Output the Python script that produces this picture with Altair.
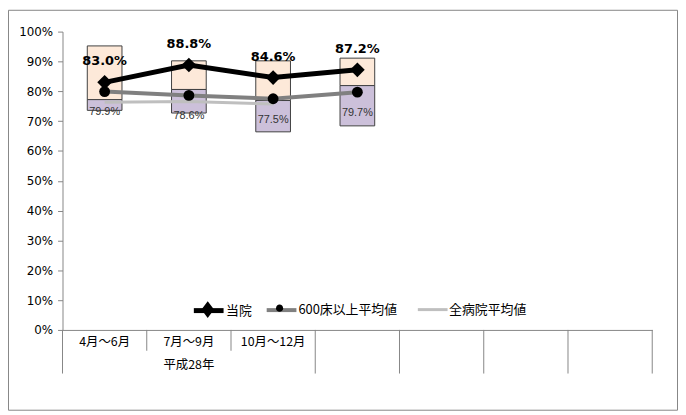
import altair as alt
import pandas as pd

# ---- data ----
categories = ["4月～6月", "7月～9月", "10月～12月", "", "", "", ""]
period_label = ["平成28年"]
series_names = ["当院", "600床以上平均値", "全病院平均値"]
own_values = [83.0, 88.8, 84.6, 87.2]          # 当院
large_values = [79.9, 78.6, 77.5, 79.7]        # 600床以上平均値
all_values = [76.3, 76.6, 75.7]                # 全病院平均値
box_top = [95.2, 90.2, 90.2, 91.1]
box_mid = [77.2, 80.6, 76.9, 81.9]
box_bottom = [73.6, 72.7, 66.4, 68.4]

W, H = 595, 301
JP = "Noto Sans CJK JP"
AXIS_GRAY = "#868686"
LINE_COLORS = ["#000000", "#808080", "#BFBFBF"]
LINE_WIDTHS = [5, 4, 3]
LEGEND_X = [130, 204, 357]
LEGEND_Y = 264

# ---- tables ----
n = len(own_values)
box_df = pd.DataFrame({
    "pos": [i + 0.5 for i in range(n)],
    "top": box_top, "mid": box_mid, "bottom": box_bottom,
})
series_dfs = []
for name, vals in zip(series_names, [own_values, large_values, all_values]):
    d = pd.DataFrame({"series": name, "pos": [i + 0.5 for i in range(len(vals))], "value": vals})
    d["label"] = [f"{v:.1f}%" for v in vals]
    series_dfs.append(d)
own_df, large_df, all_df = series_dfs
cat_df = pd.DataFrame({"pos": [i + 0.5 for i in range(len(categories))], "cat": categories})
period_df = pd.DataFrame({"pos": [1.5], "cat": period_label})
short_div = pd.DataFrame({"b": [1, 2]})
long_div = pd.DataFrame({"b": [0, 3, 4, 5, 6, 7]})

xscale = alt.Scale(domain=[0, len(categories)], nice=False, zero=False, padding=0)
yscale = alt.Scale(domain=[0, 100], nice=False, padding=0)
xaxis = alt.Axis(labels=False, ticks=False, grid=False, title=None,
                 domainColor=AXIS_GRAY, domainWidth=1)
yaxis = alt.Axis(values=list(range(0, 101, 10)), labelExpr="datum.value + '%'",
                 labelOverlap=False, grid=False, title=None, domainColor=AXIS_GRAY,
                 tickColor=AXIS_GRAY, tickSize=5, labelFont="DejaVu Sans",
                 labelFontSize=12, labelColor="black", labelPadding=5)
X = alt.X("pos:Q", scale=xscale, axis=xaxis)
Y = alt.Y("value:Q", scale=yscale, axis=yaxis)

# ---- boxes ----
upper = alt.Chart(box_df).mark_bar(size=35, color="#FDE9D9", stroke="#404040", strokeWidth=1).encode(
    x=X, y=alt.Y("top:Q", scale=yscale, axis=yaxis), y2="mid:Q")
lower = alt.Chart(box_df).mark_bar(size=35, color="#CCC0DA", stroke="#404040", strokeWidth=1).encode(
    x=X, y=alt.Y("mid:Q", scale=yscale, axis=yaxis), y2="bottom:Q")


def leg(i, **kw):
    return alt.Legend(orient="none", legendX=LEGEND_X[i], legendY=LEGEND_Y, direction="horizontal",
                      title=None, padding=0, symbolSize=900, labelFont=JP, labelFontSize=13,
                      labelColor="black", labelOffset=0, **kw)


# ---- lines, one layer (and one legend entry) per series ----
line_layers = []
for i, (name, d) in enumerate(zip(series_names, series_dfs)):
    line_layers.append(
        alt.Chart(d).mark_line(strokeWidth=LINE_WIDTHS[i]).encode(
            x=X, y=Y,
            color=alt.Color("series:N", scale=alt.Scale(domain=[name], range=[LINE_COLORS[i]]),
                            legend=leg(i, symbolType="stroke", symbolStrokeWidth=LINE_WIDTHS[i])),
            order=alt.Order("pos:Q"),
        )
    )

DIAMOND_PATH = "M-0.3,0L0,-0.4L0.3,0L0,0.4Z"
CIRCLE_PATH = "M-0.24,0A0.24,0.24,0,1,0,0.24,0A0.24,0.24,0,1,0,-0.24,0Z"
diamonds = alt.Chart(own_df).mark_point(shape="diamond", filled=True, size=220, opacity=1).encode(
    x=X, y=Y,
    fill=alt.Fill("series:N", scale=alt.Scale(domain=[series_names[0]], range=["black"]),
                  legend=leg(0, symbolType=DIAMOND_PATH, labelExpr="''", zindex=2,
                             symbolStrokeColor="black", symbolStrokeWidth=3)),
)
circles = alt.Chart(large_df).mark_point(shape="circle", filled=True, size=120, opacity=1).encode(
    x=X, y=Y,
    fill=alt.Fill("series:N", scale=alt.Scale(domain=[series_names[1]], range=["black"]),
                  legend=leg(1, symbolType=CIRCLE_PATH, labelExpr="''", zindex=2,
                             symbolStrokeWidth=0)),
)
own_labels = alt.Chart(own_df).mark_text(dy=-21, font="DejaVu Sans", fontSize=13,
                                         fontWeight="bold", color="black").encode(
    x=X, y=Y, text="label:N")
large_labels = alt.Chart(large_df).mark_text(dy=21, font="Liberation Sans", fontSize=11,
                                             color="#333333").encode(x=X, y=Y, text="label:N")

# ---- category axis (two levels) ----
short_rules = alt.Chart(short_div).mark_rule(color=AXIS_GRAY, strokeWidth=1).encode(
    x=alt.X("b:Q", scale=xscale, axis=xaxis), y=alt.value(H), y2=alt.value(H + 21))
long_rules = alt.Chart(long_div).mark_rule(color=AXIS_GRAY, strokeWidth=1).encode(
    x=alt.X("b:Q", scale=xscale, axis=xaxis), y=alt.value(H), y2=alt.value(H + 44))
cat_text = alt.Chart(cat_df).mark_text(font=JP, fontSize=12.5, color="black", baseline="middle").encode(
    x=alt.X("pos:Q", scale=xscale, axis=xaxis), y=alt.value(H + 12), text="cat:N")
period_text = alt.Chart(period_df).mark_text(font=JP, fontSize=12.5, color="black",
                                             baseline="middle").encode(
    x=alt.X("pos:Q", scale=xscale, axis=xaxis), y=alt.value(H + 35), text="cat:N")

# ---- outer frame ----
frame = alt.Chart(pd.DataFrame({"a": [0]})).mark_rect(fill=None, stroke=AXIS_GRAY, strokeWidth=1).encode(
    x=alt.value(-54.5), x2=alt.value(W + 25.5), y=alt.value(-21.5), y2=alt.value(H + 81))

chart = alt.layer(
    frame, upper, lower, line_layers[2], line_layers[1], line_layers[0], diamonds, circles,
    own_labels, large_labels, short_rules, long_rules, cat_text, period_text,
).resolve_scale(color="independent", fill="independent").properties(
    width=W, height=H,
    autosize=alt.AutoSizeParams(type="none"),
    padding={"left": 55, "top": 22, "right": 26, "bottom": 82},
    background="white",
).configure_view(stroke=None)

chart.save("out.html", embed_options={"renderer": "svg", "actions": False})
